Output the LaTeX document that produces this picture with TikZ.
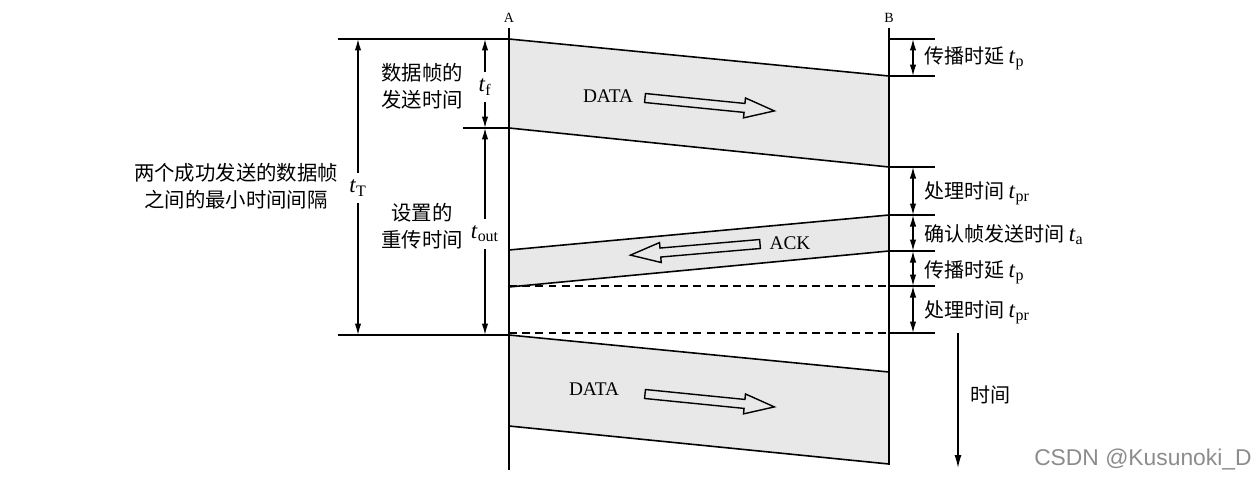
\documentclass[tikz,border=0pt]{standalone}
\usepackage{fontspec}
\setmainfont{Liberation Serif}
\newfontfamily\cjk{Noto Sans CJK SC}
\newfontfamily\wmfont{Liberation Sans}
\usetikzlibrary{arrows.meta}
\newcommand\tsub[1]{{\rmfamily\fontsize{13}{14}\selectfont\textit{t}\textsubscript{#1}}}
\begin{document}
\begin{tikzpicture}[x=0.02cm,y=-0.02cm,
  band/.style={fill=black!9,draw=none},
  edge/.style={line width=0.9pt},
  dim/.style={line width=0.8pt,{Latex[length=2.3mm,width=1.3mm]}-{Latex[length=2.3mm,width=1.3mm]}},
  lbl/.style={font=\cjk\fontsize{11.6}{15.5}\selectfont,align=center,inner sep=1pt},
  rlbl/.style={font=\cjk\fontsize{11.4}{14}\selectfont,anchor=west,inner sep=1pt},
  tl/.style={inner sep=1pt},
  hollow/.pic={\draw[line width=0.8pt] (0,-4.5) -- (100,-4.5) -- (100,-10) -- (130,0) -- (100,10) -- (100,4.5) -- (0,4.5) -- cycle;}
]
\useasboundingbox (0,0) rectangle (1257,480);
% key points
\coordinate (Atop) at (509,28); \coordinate (Abot) at (509,470);
\coordinate (Btop) at (889,28); \coordinate (Bbot) at (889,465);
\coordinate (d1a) at (509,39);  \coordinate (d1b) at (889,76);
\coordinate (d1c) at (889,167); \coordinate (d1d) at (509,128);
\coordinate (k1) at (889,215);  \coordinate (k2) at (509,250);
\coordinate (k3) at (509,287);  \coordinate (k4) at (889,251);
\coordinate (d2a) at (509,335); \coordinate (d2b) at (889,372);
\coordinate (d2c) at (889,464); \coordinate (d2d) at (509,426);
\coordinate (L1) at (338,39); \coordinate (L2) at (463,128); \coordinate (L3) at (338,335);
\coordinate (a5) at (509,286); \coordinate (a6) at (509,333);
\foreach \i/\y in {0/39,1/76,2/167,3/215,4/251,5/286,6/333}{
  \coordinate (b\i) at (889,\y); \coordinate (m\i) at (913,\y); \coordinate (r\i) at (935,\y);}
% bands
\fill[band] (d1a) -- (d1b) -- (d1c) -- (d1d) -- cycle;
\fill[band] (k2) -- (k1) -- (k4) -- (k3) -- cycle;
\fill[band] (d2a) -- (d2b) -- (d2c) -- (d2d) -- cycle;
% edges
\draw[edge] (L1) -- (d1a) -- (d1b);
\draw[edge] (L2) -- (d1d) -- (d1c);
\draw[edge] (k2) -- (k1);
\draw[edge] (k3) -- (k4);
\draw[edge] (L3) -- (d2a) -- (d2b);
\draw[edge] (d2d) -- (d2c);
\draw[edge] (Atop) -- (Abot);
\draw[edge] (Btop) -- (Bbot);
\draw[line width=0.8pt,dash pattern=on 4.5pt off 3pt] (a5) -- (b5);
\draw[line width=0.8pt,dash pattern=on 4.5pt off 3pt] (a6) -- (b6);
\foreach \i in {0,...,6}{\draw[line width=0.8pt] (b\i) -- (r\i);}
% A, B
\node[font=\fontsize{8}{9}\selectfont,inner sep=0pt] (lA) at (509,18) {A};
\node[font=\fontsize{8}{9}\selectfont,inner sep=0pt] (lB) at (889,18) {B};
% right dims
\draw[dim] (m0) -- (m1);
\draw[dim] (m2) -- (m3);
\draw[dim] (m3) -- (m4);
\draw[dim] (m4) -- (m5);
\draw[dim] (m5) -- (m6);
\node[rlbl] (rp1) at (922,58) {传播时延 \tsub{p}};
\node[rlbl] (rr1) at (922,193) {处理时间 \tsub{pr}};
\node[rlbl] (ra) at (922,235) {确认帧发送时间 \tsub{a}};
\node[rlbl] (rp2) at (922,272) {传播时延 \tsub{p}};
\node[rlbl] (rr2) at (922,312) {处理时间 \tsub{pr}};
% left dims
\coordinate (tT1) at (358,39); \coordinate (tT2) at (358,335);
\coordinate (tf1) at (485,39); \coordinate (tf2) at (485,128); \coordinate (to2) at (485,335);
\draw[dim] (tT1) -- (tT2);
\draw[dim] (tf1) -- (tf2);
\draw[dim] (tf2) -- (to2);
\node[tl,fill=white,inner ysep=4pt] (ltT) at (358,188) {\tsub{T}};
\node[tl,fill=white,inner ysep=4pt] (ltf) at (485,87) {\tsub{f}};
\node[tl,fill=white,inner ysep=4pt] (lto) at (485,234) {\tsub{out}};
\node[lbl] (lsend) at (422,86) {数据帧的\\发送时间};
\node[lbl] (lreset) at (422,226) {设置的\\重传时间};
\node[lbl] (lmin) at (236,186) {两个成功发送的数据帧\\之间的最小时间间隔};
% time axis
\coordinate (ts) at (958,333); \coordinate (te) at (958,468);
\draw[line width=0.8pt,-{Latex[length=2.6mm,width=1.4mm]}] (ts) -- (te);
\node[rlbl] (ltime) at (968,395) {时间};
% band labels and arrows
\node[font=\fontsize{11}{13}\selectfont,inner sep=0pt] (data1) at (608,96) {DATA};
\pic[rotate=-5.7] at (645,98) {hollow};
\node[font=\fontsize{11}{13}\selectfont,inner sep=0pt] (ack) at (790,243) {ACK};
\pic[rotate=184.9] at (760,244) {hollow};
\node[font=\fontsize{11}{13}\selectfont,inner sep=0pt] (data2) at (594,389) {DATA};
\pic[rotate=-5.7] at (645,394) {hollow};
% watermark
\node[font=\wmfont\fontsize{13}{15}\selectfont,text=black!45,anchor=east,inner sep=0pt] (wm) at (1252,459) {CSDN @Kusunoki\_D};
\end{tikzpicture}
\end{document}
